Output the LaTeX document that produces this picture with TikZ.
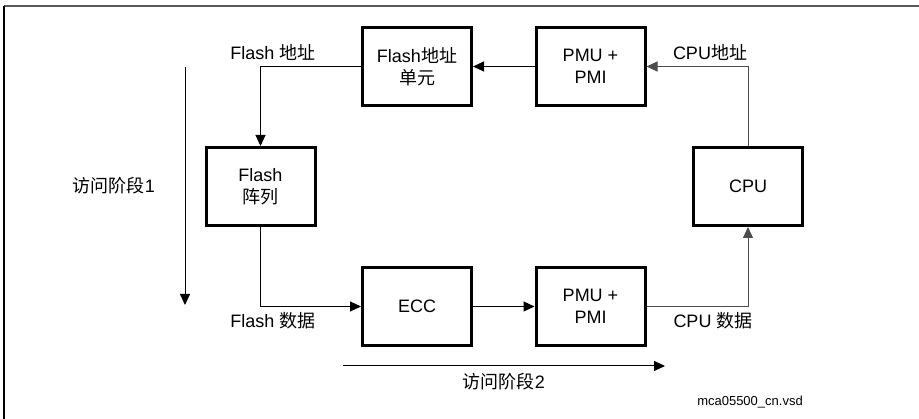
\documentclass[tikz,border=0pt]{standalone}
\usepackage{fontspec}
\setmainfont{Liberation Sans}
\newfontfamily\cjk{Noto Sans CJK SC}
\usetikzlibrary{arrows.meta}
\begin{document}
\begin{tikzpicture}[x=1pt,y=-1pt,
  blk/.style={draw,line width=3pt,minimum width=109pt,minimum height=78pt,align=center,font=\fontsize{18}{22}\selectfont,inner sep=0pt},
  conn/.style={line width=1pt,-{Triangle[length=11pt,width=10pt]}},
  lbl/.style={font=\fontsize{18}{22}\selectfont,inner sep=0pt}]
\useasboundingbox (0,0) rectangle (919,419);
\draw[gray!70!black,line width=1.5pt] (4,6) -- (919,6);
\draw[line width=1.8pt] (4,6) -- (4,419);
\node[blk] (fau) at (417,66.5) {Flash{\cjk 地址}\\{\cjk 单元}};
\node[blk] (pmu1) at (590.5,66.5) {PMU +\\PMI};
\node[blk] (cpu) at (748,186.5) {CPU};
\node[blk] (fa) at (260.5,186.5) {Flash\\{\cjk 阵列}};
\node[blk] (ecc) at (417,306.5) {ECC};
\node[blk] (pmu2) at (590.5,306.5) {PMU +\\PMI};
\draw[conn] (pmu1.west) -- (fau.east);
\draw[conn,black!70] (cpu.north) |- (pmu1.east);
\draw[conn] (fau.west) -| (fa.north);
\draw[conn] (fa.south) |- (ecc.west);
\draw[conn] (ecc.east) -- (pmu2.west);
\draw[conn,black!70] (pmu2.east) -| (cpu.south);
\coordinate (s1a) at (185,67);
\coordinate (s1b) at (185,305);
\coordinate (s2a) at (343,366);
\coordinate (s2b) at (665,366);
\draw[conn] (s1a) -- (s1b);
\draw[conn] (s2a) -- (s2b);
\node[lbl] (l1) at (273,52) {Flash {\cjk 地址}};
\node[lbl] (l2) at (710,52) {CPU{\cjk 地址}};
\node[lbl] (l3) at (114,186) {{\cjk 访问阶段}1};
\node[lbl] (l4) at (273,321) {Flash {\cjk 数据}};
\node[lbl] (l5) at (713,321) {CPU {\cjk 数据}};
\node[lbl] (l6) at (504,382) {{\cjk 访问阶段}2};
\node[font=\fontsize{13}{15}\selectfont,inner sep=0pt] (fn) at (750,402) {mca05500\_cn.vsd};
\end{tikzpicture}
\end{document}
